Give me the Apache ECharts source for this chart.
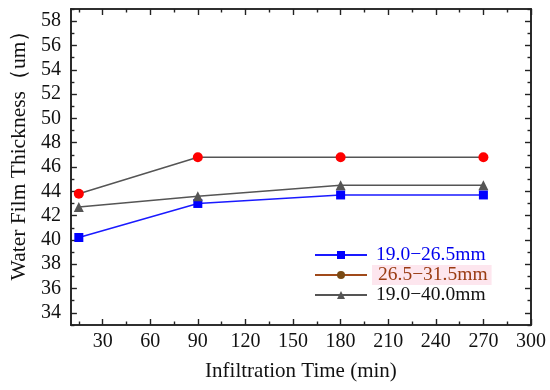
<!DOCTYPE html>
<html>
<head>
<meta charset="utf-8">
<script src="https://cdn.jsdelivr.net/npm/echarts@6/dist/echarts.min.js"></script>
<style>html,body{margin:0;padding:0;background:#fff}#c{width:550px;height:390px}</style>
</head>
<body>
<div id="c"></div>
<script>
var times = [15, 90, 180, 270];
var s1Name = '19.0\u221226.5mm';
var s2Name = '26.5\u221231.5mm';
var s3Name = '19.0\u221240.0mm';
var s1Values = [40.2, 43.0, 43.7, 43.7];
var s2Values = [43.8, 46.8, 46.8, 46.8];
var s3Values = [42.7, 43.6, 44.5, 44.5];
var xMajorTicks = [30, 60, 90, 120, 150, 180, 210, 240, 270, 300];
var xMinorTicks = [15, 45, 75, 105, 135, 165, 195, 225, 255, 285];
var yMajorTicks = [34, 36, 38, 40, 42, 44, 46, 48, 50, 52, 54, 56, 58];
var yMinorTicks = [33, 35, 37, 39, 41, 43, 45, 47, 49, 51, 53, 55, 57, 59];

function pairs(xs, ys){ return xs.map(function(x,i){return [x, ys[i]];}); }

var FONT = '"Liberation Serif", "Times New Roman", serif';
var axisLineStyle = {show: true, lineStyle: {color: '#222', width: 1.6}};

function xAx(pos, ticks, len, labels, name){
  return {
    type: 'value', position: pos, min: 10, max: 300,
    axisLine: axisLineStyle,
    axisTick: {show: true, inside: true, length: len, customValues: ticks, lineStyle: {color: '#222', width: 1.4}},
    axisLabel: labels ? {show: true, customValues: xMajorTicks, fontFamily: FONT, fontSize: 20, color: '#111', margin: 7} : {show: false},
    splitLine: {show: false},
    name: name || '', nameLocation: 'middle', nameGap: 36,
    nameTextStyle: {fontFamily: FONT, fontSize: 21, color: '#111'}
  };
}
function yAx(pos, ticks, len, labels, name){
  return {
    type: 'value', position: pos, min: 33, max: 59,
    axisLine: axisLineStyle,
    axisTick: {show: true, inside: true, length: len, customValues: ticks, lineStyle: {color: '#222', width: 1.4}},
    axisLabel: labels ? {show: true, customValues: yMajorTicks, fontFamily: FONT, fontSize: 20, color: '#111', margin: 10} : {show: false},
    splitLine: {show: false},
    name: name || '', nameLocation: 'middle', nameGap: 39,
    nameTextStyle: {fontFamily: FONT, fontSize: 21.5, color: '#111', padding: [0, 0, 0, 34]}
  };
}

var chart = echarts.init(document.getElementById('c'));
chart.setOption({
  backgroundColor: '#fff',
  animation: false,
  grid: {left: 69, top: 9, right: 19, bottom: 65, containLabel: false},
  xAxis: [
    xAx('bottom', xMajorTicks, 6, true, 'Infiltration Time (min)'),
    xAx('bottom', xMinorTicks, 3.5, false),
    xAx('top', xMajorTicks, 6, false),
    xAx('top', xMinorTicks, 3.5, false)
  ],
  yAxis: [
    yAx('left', yMajorTicks, 6, true, 'Water Film Thickness\uff08um\uff09'),
    yAx('left', yMinorTicks, 3.5, false),
    yAx('right', yMajorTicks, 6, false),
    yAx('right', yMinorTicks, 3.5, false)
  ],
  legend: {
    orient: 'vertical', left: 309, top: 240, itemWidth: 52, itemHeight: 10, itemGap: 0,
    textStyle: {fontFamily: FONT, fontSize: 19.5, padding: [0, 0, 0, 4]},
    data: [
      {name: s1Name, textStyle: {color: '#0000ee'}},
      {name: s2Name, textStyle: {color: '#9a3b12', backgroundColor: '#fde6ee', padding: [0, 4, 0, 6]},
        itemStyle: {color: '#7a4a14'}, lineStyle: {color: '#a04a1a'}},
      {name: s3Name, textStyle: {color: '#111'}}
    ]
  },
  series: [
    {name: s1Name, type: 'line', data: pairs(times, s1Values), symbol: 'rect', symbolSize: 9,
      itemStyle: {color: '#0000ff'}, lineStyle: {color: '#1a1aff', width: 1.5}},
    {name: s2Name, type: 'line', data: pairs(times, s2Values), symbol: 'circle', symbolSize: 10,
      itemStyle: {color: '#ff0000'}, lineStyle: {color: '#555', width: 1.5}},
    {name: s3Name, type: 'line', data: pairs(times, s3Values), symbol: 'triangle', symbolSize: 10,
      itemStyle: {color: '#555'}, lineStyle: {color: '#555', width: 1.5}}
  ]
});
</script>
</body>
</html>
